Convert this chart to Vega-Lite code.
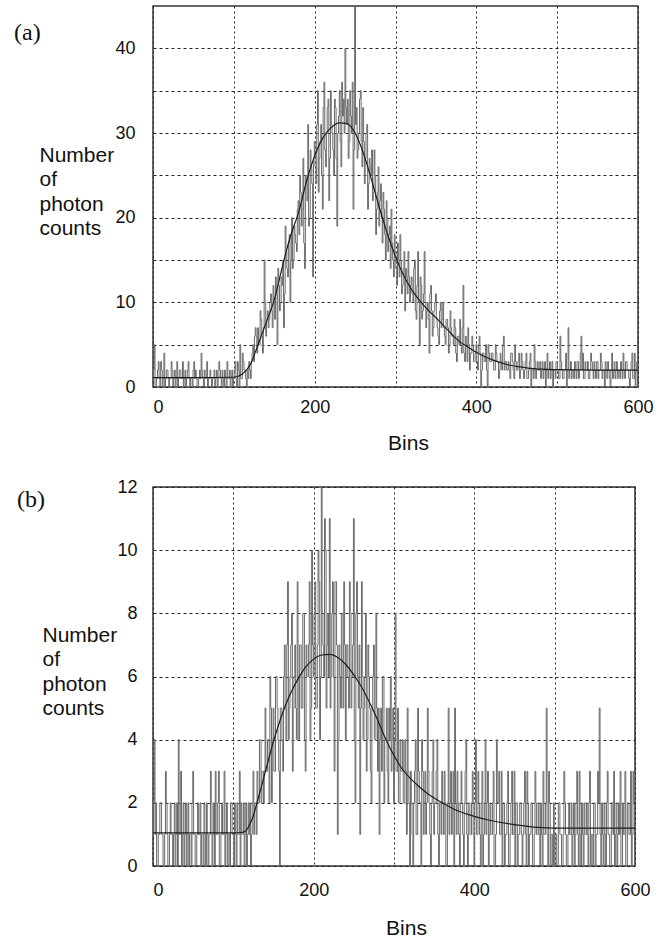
{
"$schema": "https://vega.github.io/schema/vega-lite/v6.json",
"background": "white",
"padding": {"left": 13, "top": 5, "right": 5, "bottom": 0},
"spacing": 23,
"config": {
 "view": {"stroke": "#333333", "strokeWidth": 1.5},
 "font": "Liberation Sans",
 "axis": {"grid": true, "gridColor": "#222222", "gridWidth": 1, "gridOpacity": 1, "ticks": false, "domain": false, "labelFont": "Liberation Sans", "labelFontSize": 18, "labelColor": "#111111", "titleFont": "Liberation Sans", "titleFontSize": 21, "titleFontWeight": "normal", "titleColor": "#111111", "labelOverlap": false},
 "title": {"font": "Liberation Serif", "fontSize": 24, "fontWeight": "normal", "color": "#111111"}
},
"datasets": {
"a": [{"bin":0,"n":1},{"bin":2,"n":5},{"bin":4,"n":0},{"bin":6,"n":2},{"bin":8,"n":1},{"bin":10,"n":3},{"bin":12,"n":0},{"bin":14,"n":4},{"bin":16,"n":1},{"bin":18,"n":2},
{"bin":20,"n":0},{"bin":22,"n":1},{"bin":24,"n":2},{"bin":26,"n":1},{"bin":28,"n":0},{"bin":30,"n":3},{"bin":32,"n":1},{"bin":34,"n":2},{"bin":36,"n":1},{"bin":38,"n":0},
{"bin":40,"n":2},{"bin":42,"n":1},{"bin":44,"n":3},{"bin":46,"n":0},{"bin":48,"n":1},{"bin":50,"n":2},{"bin":52,"n":1},{"bin":54,"n":1},{"bin":56,"n":0},{"bin":58,"n":2},
{"bin":60,"n":4},{"bin":62,"n":1},{"bin":64,"n":2},{"bin":66,"n":1},{"bin":68,"n":0},{"bin":70,"n":1},{"bin":72,"n":1},{"bin":74,"n":1},{"bin":76,"n":2},{"bin":78,"n":1},
{"bin":80,"n":0},{"bin":82,"n":3},{"bin":84,"n":1},{"bin":86,"n":2},{"bin":88,"n":0},{"bin":90,"n":1},{"bin":92,"n":3},{"bin":94,"n":1},{"bin":96,"n":0},{"bin":98,"n":2},
{"bin":100,"n":1},{"bin":102,"n":3},{"bin":104,"n":0},{"bin":106,"n":2},{"bin":108,"n":5},{"bin":110,"n":1},{"bin":112,"n":3},{"bin":114,"n":2},{"bin":116,"n":0},{"bin":118,"n":1},
{"bin":120,"n":2},{"bin":122,"n":3},{"bin":124,"n":5},{"bin":126,"n":6},{"bin":128,"n":6},{"bin":130,"n":7},{"bin":132,"n":5},{"bin":134,"n":8},{"bin":136,"n":4},{"bin":138,"n":15},
{"bin":140,"n":6},{"bin":142,"n":9},{"bin":144,"n":8},{"bin":146,"n":11},{"bin":148,"n":7},{"bin":150,"n":10},{"bin":152,"n":13},{"bin":154,"n":5},{"bin":156,"n":12},{"bin":158,"n":10},
{"bin":160,"n":12},{"bin":162,"n":7},{"bin":164,"n":19},{"bin":166,"n":14},{"bin":168,"n":17},{"bin":170,"n":10},{"bin":172,"n":20},{"bin":174,"n":15},{"bin":176,"n":18},{"bin":178,"n":16},
{"bin":180,"n":22},{"bin":182,"n":25},{"bin":184,"n":19},{"bin":186,"n":27},{"bin":188,"n":14},{"bin":190,"n":24},{"bin":192,"n":31},{"bin":194,"n":20},{"bin":196,"n":26},{"bin":198,"n":13},
{"bin":200,"n":29},{"bin":202,"n":24},{"bin":204,"n":35},{"bin":206,"n":27},{"bin":208,"n":31},{"bin":210,"n":21},{"bin":212,"n":36},{"bin":214,"n":26},{"bin":216,"n":33},{"bin":218,"n":22},
{"bin":220,"n":35},{"bin":222,"n":30},{"bin":224,"n":25},{"bin":226,"n":33},{"bin":228,"n":19},{"bin":230,"n":32},{"bin":232,"n":29},{"bin":234,"n":36},{"bin":236,"n":34},{"bin":238,"n":40},
{"bin":240,"n":31},{"bin":242,"n":27},{"bin":244,"n":35},{"bin":246,"n":30},{"bin":248,"n":21},{"bin":250,"n":45},{"bin":252,"n":33},{"bin":254,"n":28},{"bin":256,"n":34},{"bin":258,"n":29},
{"bin":260,"n":33},{"bin":262,"n":24},{"bin":264,"n":30},{"bin":266,"n":21},{"bin":268,"n":27},{"bin":270,"n":25},{"bin":272,"n":22},{"bin":274,"n":28},{"bin":276,"n":18},{"bin":278,"n":23},
{"bin":280,"n":19},{"bin":282,"n":24},{"bin":284,"n":17},{"bin":286,"n":21},{"bin":288,"n":15},{"bin":290,"n":20},{"bin":292,"n":18},{"bin":294,"n":14},{"bin":296,"n":17},{"bin":298,"n":13},
{"bin":300,"n":16},{"bin":302,"n":12},{"bin":304,"n":15},{"bin":306,"n":18},{"bin":308,"n":11},{"bin":310,"n":14},{"bin":312,"n":9},{"bin":314,"n":13},{"bin":316,"n":16},{"bin":318,"n":10},
{"bin":320,"n":13},{"bin":322,"n":10},{"bin":324,"n":15},{"bin":326,"n":8},{"bin":328,"n":16},{"bin":330,"n":5},{"bin":332,"n":12},{"bin":334,"n":9},{"bin":336,"n":16},{"bin":338,"n":7},
{"bin":340,"n":10},{"bin":342,"n":4},{"bin":344,"n":12},{"bin":346,"n":6},{"bin":348,"n":9},{"bin":350,"n":11},{"bin":352,"n":7},{"bin":354,"n":5},{"bin":356,"n":10},{"bin":358,"n":8},
{"bin":360,"n":7},{"bin":362,"n":5},{"bin":364,"n":8},{"bin":366,"n":4},{"bin":368,"n":9},{"bin":370,"n":6},{"bin":372,"n":5},{"bin":374,"n":7},{"bin":376,"n":3},{"bin":378,"n":6},
{"bin":380,"n":8},{"bin":382,"n":4},{"bin":384,"n":12},{"bin":386,"n":3},{"bin":388,"n":5},{"bin":390,"n":7},{"bin":392,"n":2},{"bin":394,"n":4},{"bin":396,"n":5},{"bin":398,"n":3},
{"bin":400,"n":5},{"bin":402,"n":2},{"bin":404,"n":6},{"bin":406,"n":0},{"bin":408,"n":4},{"bin":410,"n":3},{"bin":412,"n":5},{"bin":414,"n":0},{"bin":416,"n":4},{"bin":418,"n":3},
{"bin":420,"n":4},{"bin":422,"n":2},{"bin":424,"n":5},{"bin":426,"n":3},{"bin":428,"n":1},{"bin":430,"n":4},{"bin":432,"n":2},{"bin":434,"n":6},{"bin":436,"n":3},{"bin":438,"n":2},
{"bin":440,"n":3},{"bin":442,"n":1},{"bin":444,"n":4},{"bin":446,"n":2},{"bin":448,"n":5},{"bin":450,"n":2},{"bin":452,"n":3},{"bin":454,"n":1},{"bin":456,"n":4},{"bin":458,"n":2},
{"bin":460,"n":2},{"bin":462,"n":4},{"bin":464,"n":1},{"bin":466,"n":3},{"bin":468,"n":0},{"bin":470,"n":2},{"bin":472,"n":5},{"bin":474,"n":1},{"bin":476,"n":3},{"bin":478,"n":2},
{"bin":480,"n":1},{"bin":482,"n":3},{"bin":484,"n":2},{"bin":486,"n":0},{"bin":488,"n":4},{"bin":490,"n":2},{"bin":492,"n":1},{"bin":494,"n":3},{"bin":496,"n":2},{"bin":498,"n":1},
{"bin":500,"n":3},{"bin":502,"n":1},{"bin":504,"n":6},{"bin":506,"n":2},{"bin":508,"n":1},{"bin":510,"n":2},{"bin":512,"n":0},{"bin":514,"n":7},{"bin":516,"n":2},{"bin":518,"n":1},
{"bin":520,"n":2},{"bin":522,"n":3},{"bin":524,"n":1},{"bin":526,"n":3},{"bin":528,"n":2},{"bin":530,"n":6},{"bin":532,"n":4},{"bin":534,"n":1},{"bin":536,"n":2},{"bin":538,"n":3},
{"bin":540,"n":1},{"bin":542,"n":4},{"bin":544,"n":2},{"bin":546,"n":3},{"bin":548,"n":1},{"bin":550,"n":3},{"bin":552,"n":2},{"bin":554,"n":4},{"bin":556,"n":1},{"bin":558,"n":2},
{"bin":560,"n":3},{"bin":562,"n":1},{"bin":564,"n":2},{"bin":566,"n":0},{"bin":568,"n":4},{"bin":570,"n":2},{"bin":572,"n":1},{"bin":574,"n":3},{"bin":576,"n":2},{"bin":578,"n":1},
{"bin":580,"n":2},{"bin":582,"n":4},{"bin":584,"n":1},{"bin":586,"n":3},{"bin":588,"n":2},{"bin":590,"n":0},{"bin":592,"n":3},{"bin":594,"n":1},{"bin":596,"n":4},{"bin":598,"n":2},{"bin":600,"n":2},
{"bin":1,"n":2},{"bin":3,"n":0},{"bin":5,"n":1},{"bin":7,"n":3},{"bin":9,"n":0},{"bin":11,"n":2},{"bin":13,"n":1},{"bin":15,"n":0},{"bin":17,"n":2},{"bin":19,"n":1},
{"bin":21,"n":1},{"bin":23,"n":3},{"bin":25,"n":0},{"bin":27,"n":2},{"bin":29,"n":1},{"bin":31,"n":0},{"bin":33,"n":2},{"bin":35,"n":1},{"bin":37,"n":3},{"bin":39,"n":1},
{"bin":41,"n":0},{"bin":43,"n":2},{"bin":45,"n":1},{"bin":47,"n":1},{"bin":49,"n":0},{"bin":51,"n":3},{"bin":53,"n":2},{"bin":55,"n":0},{"bin":57,"n":1},{"bin":59,"n":1},
{"bin":61,"n":2},{"bin":63,"n":0},{"bin":65,"n":1},{"bin":67,"n":3},{"bin":69,"n":1},{"bin":71,"n":2},{"bin":73,"n":0},{"bin":75,"n":1},{"bin":77,"n":0},{"bin":79,"n":2},
{"bin":81,"n":1},{"bin":83,"n":2},{"bin":85,"n":0},{"bin":87,"n":1},{"bin":89,"n":2},{"bin":91,"n":0},{"bin":93,"n":1},{"bin":95,"n":2},{"bin":97,"n":1},{"bin":99,"n":0},
{"bin":101,"n":2},{"bin":103,"n":1},{"bin":105,"n":3},{"bin":107,"n":0},{"bin":109,"n":1},{"bin":111,"n":4},{"bin":113,"n":2},{"bin":115,"n":1},{"bin":117,"n":2},{"bin":119,"n":3},
{"bin":121,"n":1},{"bin":123,"n":4},{"bin":125,"n":3},{"bin":127,"n":7},{"bin":129,"n":4},{"bin":131,"n":5},{"bin":133,"n":9},{"bin":135,"n":6},{"bin":137,"n":7},{"bin":139,"n":10},
{"bin":141,"n":8},{"bin":143,"n":7},{"bin":145,"n":10},{"bin":147,"n":9},{"bin":149,"n":12},{"bin":151,"n":8},{"bin":153,"n":11},{"bin":155,"n":14},{"bin":157,"n":9},{"bin":159,"n":13},
{"bin":161,"n":15},{"bin":163,"n":11},{"bin":165,"n":16},{"bin":167,"n":13},{"bin":169,"n":18},{"bin":171,"n":15},{"bin":173,"n":14},{"bin":175,"n":19},{"bin":177,"n":17},{"bin":179,"n":21},
{"bin":181,"n":18},{"bin":183,"n":23},{"bin":185,"n":21},{"bin":187,"n":17},{"bin":189,"n":25},{"bin":191,"n":22},{"bin":193,"n":19},{"bin":195,"n":28},{"bin":197,"n":24},{"bin":199,"n":27},
{"bin":201,"n":26},{"bin":203,"n":31},{"bin":205,"n":23},{"bin":207,"n":29},{"bin":209,"n":25},{"bin":211,"n":33},{"bin":213,"n":28},{"bin":215,"n":30},{"bin":217,"n":34},{"bin":219,"n":27},
{"bin":221,"n":31},{"bin":223,"n":28},{"bin":225,"n":34},{"bin":227,"n":27},{"bin":229,"n":30},{"bin":231,"n":35},{"bin":233,"n":26},{"bin":235,"n":32},{"bin":237,"n":30},{"bin":239,"n":33},
{"bin":241,"n":34},{"bin":243,"n":29},{"bin":245,"n":32},{"bin":247,"n":36},{"bin":249,"n":28},{"bin":251,"n":31},{"bin":253,"n":27},{"bin":255,"n":30},{"bin":257,"n":35},{"bin":259,"n":26},
{"bin":261,"n":29},{"bin":263,"n":27},{"bin":265,"n":31},{"bin":267,"n":24},{"bin":269,"n":26},{"bin":271,"n":28},{"bin":273,"n":23},{"bin":275,"n":25},{"bin":277,"n":21},{"bin":279,"n":26},
{"bin":281,"n":22},{"bin":283,"n":20},{"bin":285,"n":23},{"bin":287,"n":18},{"bin":289,"n":22},{"bin":291,"n":16},{"bin":293,"n":19},{"bin":295,"n":21},{"bin":297,"n":15},{"bin":299,"n":18},
{"bin":301,"n":14},{"bin":303,"n":17},{"bin":305,"n":13},{"bin":307,"n":15},{"bin":309,"n":12},{"bin":311,"n":16},{"bin":313,"n":14},{"bin":315,"n":11},{"bin":317,"n":13},{"bin":319,"n":12},
{"bin":321,"n":11},{"bin":323,"n":14},{"bin":325,"n":9},{"bin":327,"n":12},{"bin":329,"n":10},{"bin":331,"n":13},{"bin":333,"n":8},{"bin":335,"n":11},{"bin":337,"n":10},{"bin":339,"n":9},
{"bin":341,"n":8},{"bin":343,"n":11},{"bin":345,"n":9},{"bin":347,"n":7},{"bin":349,"n":10},{"bin":351,"n":8},{"bin":353,"n":6},{"bin":355,"n":9},{"bin":357,"n":7},{"bin":359,"n":10},
{"bin":361,"n":6},{"bin":363,"n":8},{"bin":365,"n":7},{"bin":367,"n":5},{"bin":369,"n":7},{"bin":371,"n":6},{"bin":373,"n":8},{"bin":375,"n":4},{"bin":377,"n":6},{"bin":379,"n":5},
{"bin":381,"n":5},{"bin":383,"n":7},{"bin":385,"n":4},{"bin":387,"n":6},{"bin":389,"n":3},{"bin":391,"n":5},{"bin":393,"n":4},{"bin":395,"n":6},{"bin":397,"n":3},{"bin":399,"n":4},
{"bin":401,"n":3},{"bin":403,"n":5},{"bin":405,"n":4},{"bin":407,"n":2},{"bin":409,"n":4},{"bin":411,"n":3},{"bin":413,"n":2},{"bin":415,"n":5},{"bin":417,"n":3},{"bin":419,"n":4},
{"bin":421,"n":3},{"bin":423,"n":2},{"bin":425,"n":4},{"bin":427,"n":3},{"bin":429,"n":2},{"bin":431,"n":3},{"bin":433,"n":5},{"bin":435,"n":2},{"bin":437,"n":3},{"bin":439,"n":2},
{"bin":441,"n":2},{"bin":443,"n":4},{"bin":445,"n":3},{"bin":447,"n":1},{"bin":449,"n":3},{"bin":451,"n":2},{"bin":453,"n":4},{"bin":455,"n":2},{"bin":457,"n":3},{"bin":459,"n":1},
{"bin":461,"n":3},{"bin":463,"n":1},{"bin":465,"n":2},{"bin":467,"n":4},{"bin":469,"n":2},{"bin":471,"n":1},{"bin":473,"n":3},{"bin":475,"n":2},{"bin":477,"n":2},{"bin":479,"n":3},
{"bin":481,"n":2},{"bin":483,"n":1},{"bin":485,"n":3},{"bin":487,"n":2},{"bin":489,"n":1},{"bin":491,"n":3},{"bin":493,"n":2},{"bin":495,"n":0},{"bin":497,"n":2},{"bin":499,"n":3},
{"bin":501,"n":2},{"bin":503,"n":1},{"bin":505,"n":3},{"bin":507,"n":1},{"bin":509,"n":2},{"bin":511,"n":4},{"bin":513,"n":2},{"bin":515,"n":1},{"bin":517,"n":3},{"bin":519,"n":2},
{"bin":521,"n":1},{"bin":523,"n":2},{"bin":525,"n":3},{"bin":527,"n":1},{"bin":529,"n":4},{"bin":531,"n":2},{"bin":533,"n":1},{"bin":535,"n":3},{"bin":537,"n":2},{"bin":539,"n":1},
{"bin":541,"n":2},{"bin":543,"n":3},{"bin":545,"n":1},{"bin":547,"n":2},{"bin":549,"n":3},{"bin":551,"n":1},{"bin":553,"n":2},{"bin":555,"n":3},{"bin":557,"n":2},{"bin":559,"n":0},
{"bin":561,"n":2},{"bin":563,"n":3},{"bin":565,"n":1},{"bin":567,"n":2},{"bin":569,"n":1},{"bin":571,"n":3},{"bin":573,"n":2},{"bin":575,"n":1},{"bin":577,"n":2},{"bin":579,"n":3},
{"bin":581,"n":1},{"bin":583,"n":2},{"bin":585,"n":3},{"bin":587,"n":2},{"bin":589,"n":1},{"bin":591,"n":2},{"bin":593,"n":4},{"bin":595,"n":1},{"bin":597,"n":0},{"bin":599,"n":3}],
"b": [{"bin":0,"n":1},{"bin":2,"n":4},{"bin":4,"n":2},{"bin":6,"n":0},{"bin":8,"n":1},{"bin":10,"n":2},{"bin":12,"n":1},{"bin":14,"n":0},{"bin":16,"n":3},{"bin":18,"n":1},
{"bin":20,"n":0},{"bin":22,"n":2},{"bin":24,"n":1},{"bin":26,"n":1},{"bin":28,"n":0},{"bin":30,"n":2},{"bin":32,"n":4},{"bin":34,"n":1},{"bin":36,"n":0},{"bin":38,"n":2},
{"bin":40,"n":1},{"bin":42,"n":0},{"bin":44,"n":2},{"bin":46,"n":1},{"bin":48,"n":0},{"bin":50,"n":3},{"bin":52,"n":1},{"bin":54,"n":0},{"bin":56,"n":2},{"bin":58,"n":1},
{"bin":60,"n":0},{"bin":62,"n":1},{"bin":64,"n":2},{"bin":66,"n":0},{"bin":68,"n":1},{"bin":70,"n":1},{"bin":72,"n":3},{"bin":74,"n":0},{"bin":76,"n":2},{"bin":78,"n":3},
{"bin":80,"n":1},{"bin":82,"n":3},{"bin":84,"n":0},{"bin":86,"n":2},{"bin":88,"n":1},{"bin":90,"n":0},{"bin":92,"n":2},{"bin":94,"n":1},{"bin":96,"n":0},{"bin":98,"n":2},
{"bin":100,"n":1},{"bin":102,"n":2},{"bin":104,"n":0},{"bin":106,"n":1},{"bin":108,"n":3},{"bin":110,"n":2},{"bin":112,"n":1},{"bin":114,"n":0},{"bin":116,"n":2},{"bin":118,"n":1},
{"bin":120,"n":1},{"bin":122,"n":0},{"bin":124,"n":2},{"bin":126,"n":1},{"bin":128,"n":2},{"bin":130,"n":3},{"bin":132,"n":2},{"bin":134,"n":4},{"bin":136,"n":3},{"bin":138,"n":2},
{"bin":140,"n":5},{"bin":142,"n":3},{"bin":144,"n":4},{"bin":146,"n":6},{"bin":148,"n":2},{"bin":150,"n":5},{"bin":152,"n":3},{"bin":154,"n":6},{"bin":156,"n":4},{"bin":158,"n":0},
{"bin":160,"n":5},{"bin":162,"n":3},{"bin":164,"n":7},{"bin":166,"n":4},{"bin":168,"n":9},{"bin":170,"n":5},{"bin":172,"n":7},{"bin":174,"n":3},{"bin":176,"n":6},{"bin":178,"n":5},
{"bin":180,"n":9},{"bin":182,"n":4},{"bin":184,"n":7},{"bin":186,"n":5},{"bin":188,"n":8},{"bin":190,"n":3},{"bin":192,"n":6},{"bin":194,"n":7},{"bin":196,"n":4},{"bin":198,"n":10},
{"bin":200,"n":6},{"bin":202,"n":9},{"bin":204,"n":5},{"bin":206,"n":10},{"bin":208,"n":4},{"bin":210,"n":12},{"bin":212,"n":7},{"bin":214,"n":11},{"bin":216,"n":5},{"bin":218,"n":8},
{"bin":220,"n":11},{"bin":222,"n":6},{"bin":224,"n":9},{"bin":226,"n":3},{"bin":228,"n":9},{"bin":230,"n":1},{"bin":232,"n":7},{"bin":234,"n":5},{"bin":236,"n":8},{"bin":238,"n":9},
{"bin":240,"n":4},{"bin":242,"n":7},{"bin":244,"n":5},{"bin":246,"n":8},{"bin":248,"n":6},{"bin":250,"n":11},{"bin":252,"n":2},{"bin":254,"n":9},{"bin":256,"n":5},{"bin":258,"n":1},
{"bin":260,"n":9},{"bin":262,"n":4},{"bin":264,"n":6},{"bin":266,"n":3},{"bin":268,"n":7},{"bin":270,"n":5},{"bin":272,"n":2},{"bin":274,"n":6},{"bin":276,"n":4},{"bin":278,"n":8},
{"bin":280,"n":3},{"bin":282,"n":1},{"bin":284,"n":5},{"bin":286,"n":6},{"bin":288,"n":2},{"bin":290,"n":4},{"bin":292,"n":3},{"bin":294,"n":5},{"bin":296,"n":6},{"bin":298,"n":4},
{"bin":300,"n":2},{"bin":302,"n":8},{"bin":304,"n":3},{"bin":306,"n":2},{"bin":308,"n":4},{"bin":310,"n":3},{"bin":312,"n":2},{"bin":314,"n":4},{"bin":316,"n":1},{"bin":318,"n":3},
{"bin":320,"n":0},{"bin":322,"n":2},{"bin":324,"n":0},{"bin":326,"n":3},{"bin":328,"n":1},{"bin":330,"n":5},{"bin":332,"n":2},{"bin":334,"n":0},{"bin":336,"n":3},{"bin":338,"n":2},
{"bin":340,"n":1},{"bin":342,"n":5},{"bin":344,"n":2},{"bin":346,"n":0},{"bin":348,"n":3},{"bin":350,"n":1},{"bin":352,"n":2},{"bin":354,"n":4},{"bin":356,"n":0},{"bin":358,"n":2},
{"bin":360,"n":3},{"bin":362,"n":1},{"bin":364,"n":2},{"bin":366,"n":0},{"bin":368,"n":5},{"bin":370,"n":2},{"bin":372,"n":1},{"bin":374,"n":3},{"bin":376,"n":5},{"bin":378,"n":1},
{"bin":380,"n":2},{"bin":382,"n":0},{"bin":384,"n":3},{"bin":386,"n":1},{"bin":388,"n":2},{"bin":390,"n":4},{"bin":392,"n":0},{"bin":394,"n":2},{"bin":396,"n":1},{"bin":398,"n":3},
{"bin":400,"n":0},{"bin":402,"n":4},{"bin":404,"n":1},{"bin":406,"n":2},{"bin":408,"n":0},{"bin":410,"n":3},{"bin":412,"n":1},{"bin":414,"n":4},{"bin":416,"n":2},{"bin":418,"n":0},
{"bin":420,"n":2},{"bin":422,"n":1},{"bin":424,"n":3},{"bin":426,"n":0},{"bin":428,"n":4},{"bin":430,"n":2},{"bin":432,"n":1},{"bin":434,"n":3},{"bin":436,"n":2},{"bin":438,"n":0},
{"bin":440,"n":1},{"bin":442,"n":3},{"bin":444,"n":0},{"bin":446,"n":2},{"bin":448,"n":1},{"bin":450,"n":3},{"bin":452,"n":2},{"bin":454,"n":0},{"bin":456,"n":1},{"bin":458,"n":2},
{"bin":460,"n":0},{"bin":462,"n":2},{"bin":464,"n":1},{"bin":466,"n":3},{"bin":468,"n":0},{"bin":470,"n":1},{"bin":472,"n":2},{"bin":474,"n":0},{"bin":476,"n":3},{"bin":478,"n":1},
{"bin":480,"n":2},{"bin":482,"n":0},{"bin":484,"n":1},{"bin":486,"n":3},{"bin":488,"n":1},{"bin":490,"n":5},{"bin":492,"n":0},{"bin":494,"n":2},{"bin":496,"n":1},{"bin":498,"n":0},
{"bin":500,"n":0},{"bin":502,"n":1},{"bin":504,"n":0},{"bin":506,"n":2},{"bin":508,"n":1},{"bin":510,"n":0},{"bin":512,"n":3},{"bin":514,"n":1},{"bin":516,"n":0},{"bin":518,"n":2},
{"bin":520,"n":1},{"bin":522,"n":0},{"bin":524,"n":2},{"bin":526,"n":1},{"bin":528,"n":3},{"bin":530,"n":0},{"bin":532,"n":1},{"bin":534,"n":2},{"bin":536,"n":0},{"bin":538,"n":1},
{"bin":540,"n":2},{"bin":542,"n":0},{"bin":544,"n":3},{"bin":546,"n":1},{"bin":548,"n":0},{"bin":550,"n":2},{"bin":552,"n":1},{"bin":554,"n":3},{"bin":556,"n":5},{"bin":558,"n":0},
{"bin":560,"n":1},{"bin":562,"n":2},{"bin":564,"n":0},{"bin":566,"n":3},{"bin":568,"n":1},{"bin":570,"n":0},{"bin":572,"n":2},{"bin":574,"n":3},{"bin":576,"n":1},{"bin":578,"n":0},
{"bin":580,"n":2},{"bin":582,"n":3},{"bin":584,"n":0},{"bin":586,"n":1},{"bin":588,"n":3},{"bin":590,"n":0},{"bin":592,"n":2},{"bin":594,"n":1},{"bin":596,"n":0},{"bin":598,"n":3},{"bin":600,"n":3},
{"bin":1,"n":2},{"bin":3,"n":1},{"bin":5,"n":0},{"bin":7,"n":1},{"bin":9,"n":2},{"bin":11,"n":1},{"bin":13,"n":0},{"bin":15,"n":1},{"bin":17,"n":2},{"bin":19,"n":0},
{"bin":21,"n":1},{"bin":23,"n":1},{"bin":25,"n":0},{"bin":27,"n":2},{"bin":29,"n":1},{"bin":31,"n":0},{"bin":33,"n":1},{"bin":35,"n":3},{"bin":37,"n":1},{"bin":39,"n":0},
{"bin":41,"n":2},{"bin":43,"n":1},{"bin":45,"n":0},{"bin":47,"n":1},{"bin":49,"n":2},{"bin":51,"n":1},{"bin":53,"n":0},{"bin":55,"n":1},{"bin":57,"n":1},{"bin":59,"n":2},
{"bin":61,"n":1},{"bin":63,"n":0},{"bin":65,"n":1},{"bin":67,"n":2},{"bin":69,"n":0},{"bin":71,"n":1},{"bin":73,"n":2},{"bin":75,"n":1},{"bin":77,"n":0},{"bin":79,"n":1},
{"bin":81,"n":2},{"bin":83,"n":0},{"bin":85,"n":1},{"bin":87,"n":1},{"bin":89,"n":3},{"bin":91,"n":1},{"bin":93,"n":0},{"bin":95,"n":1},{"bin":97,"n":2},{"bin":99,"n":1},
{"bin":101,"n":0},{"bin":103,"n":1},{"bin":105,"n":2},{"bin":107,"n":1},{"bin":109,"n":0},{"bin":111,"n":1},{"bin":113,"n":2},{"bin":115,"n":1},{"bin":117,"n":0},{"bin":119,"n":2},
{"bin":121,"n":2},{"bin":123,"n":1},{"bin":125,"n":3},{"bin":127,"n":2},{"bin":129,"n":1},{"bin":131,"n":2},{"bin":133,"n":4},{"bin":135,"n":2},{"bin":137,"n":3},{"bin":139,"n":3},
{"bin":141,"n":3},{"bin":143,"n":4},{"bin":145,"n":2},{"bin":147,"n":5},{"bin":149,"n":4},{"bin":151,"n":3},{"bin":153,"n":6},{"bin":155,"n":5},{"bin":157,"n":3},{"bin":159,"n":5},
{"bin":161,"n":4},{"bin":163,"n":6},{"bin":165,"n":5},{"bin":167,"n":7},{"bin":169,"n":4},{"bin":171,"n":6},{"bin":173,"n":8},{"bin":175,"n":5},{"bin":177,"n":7},{"bin":179,"n":4},
{"bin":181,"n":6},{"bin":183,"n":7},{"bin":185,"n":5},{"bin":187,"n":8},{"bin":189,"n":4},{"bin":191,"n":7},{"bin":193,"n":6},{"bin":195,"n":9},{"bin":197,"n":5},{"bin":199,"n":7},
{"bin":201,"n":8},{"bin":203,"n":5},{"bin":205,"n":7},{"bin":207,"n":9},{"bin":209,"n":6},{"bin":211,"n":8},{"bin":213,"n":6},{"bin":215,"n":10},{"bin":217,"n":7},{"bin":219,"n":6},
{"bin":221,"n":5},{"bin":223,"n":8},{"bin":225,"n":6},{"bin":227,"n":9},{"bin":229,"n":7},{"bin":231,"n":4},{"bin":233,"n":6},{"bin":235,"n":8},{"bin":237,"n":5},{"bin":239,"n":7},
{"bin":241,"n":7},{"bin":243,"n":6},{"bin":245,"n":9},{"bin":247,"n":5},{"bin":249,"n":7},{"bin":251,"n":4},{"bin":253,"n":8},{"bin":255,"n":6},{"bin":257,"n":7},{"bin":259,"n":5},
{"bin":261,"n":6},{"bin":263,"n":5},{"bin":265,"n":8},{"bin":267,"n":4},{"bin":269,"n":6},{"bin":271,"n":3},{"bin":273,"n":5},{"bin":275,"n":7},{"bin":277,"n":4},{"bin":279,"n":5},
{"bin":281,"n":5},{"bin":283,"n":4},{"bin":285,"n":3},{"bin":287,"n":6},{"bin":289,"n":4},{"bin":291,"n":5},{"bin":293,"n":2},{"bin":295,"n":4},{"bin":297,"n":3},{"bin":299,"n":5},
{"bin":301,"n":4},{"bin":303,"n":3},{"bin":305,"n":5},{"bin":307,"n":2},{"bin":309,"n":3},{"bin":311,"n":4},{"bin":313,"n":2},{"bin":315,"n":3},{"bin":317,"n":5},{"bin":319,"n":2},
{"bin":321,"n":3},{"bin":323,"n":1},{"bin":325,"n":2},{"bin":327,"n":4},{"bin":329,"n":1},{"bin":331,"n":3},{"bin":333,"n":2},{"bin":335,"n":4},{"bin":337,"n":1},{"bin":339,"n":3},
{"bin":341,"n":2},{"bin":343,"n":3},{"bin":345,"n":1},{"bin":347,"n":2},{"bin":349,"n":4},{"bin":351,"n":2},{"bin":353,"n":3},{"bin":355,"n":1},{"bin":357,"n":2},{"bin":359,"n":1},
{"bin":361,"n":2},{"bin":363,"n":3},{"bin":365,"n":0},{"bin":367,"n":2},{"bin":369,"n":1},{"bin":371,"n":3},{"bin":373,"n":2},{"bin":375,"n":0},{"bin":377,"n":2},{"bin":379,"n":3},
{"bin":381,"n":1},{"bin":383,"n":2},{"bin":385,"n":2},{"bin":387,"n":0},{"bin":389,"n":3},{"bin":391,"n":1},{"bin":393,"n":2},{"bin":395,"n":1},{"bin":397,"n":2},{"bin":399,"n":1},
{"bin":401,"n":2},{"bin":403,"n":1},{"bin":405,"n":3},{"bin":407,"n":1},{"bin":409,"n":2},{"bin":411,"n":0},{"bin":413,"n":2},{"bin":415,"n":1},{"bin":417,"n":3},{"bin":419,"n":1},
{"bin":421,"n":1},{"bin":423,"n":2},{"bin":425,"n":0},{"bin":427,"n":1},{"bin":429,"n":2},{"bin":431,"n":3},{"bin":433,"n":1},{"bin":435,"n":0},{"bin":437,"n":2},{"bin":439,"n":1},
{"bin":441,"n":2},{"bin":443,"n":0},{"bin":445,"n":1},{"bin":447,"n":3},{"bin":449,"n":1},{"bin":451,"n":0},{"bin":453,"n":2},{"bin":455,"n":1},{"bin":457,"n":2},{"bin":459,"n":1},
{"bin":461,"n":1},{"bin":463,"n":3},{"bin":465,"n":0},{"bin":467,"n":2},{"bin":469,"n":1},{"bin":471,"n":2},{"bin":473,"n":0},{"bin":475,"n":1},{"bin":477,"n":2},{"bin":479,"n":1},
{"bin":481,"n":1},{"bin":483,"n":2},{"bin":485,"n":0},{"bin":487,"n":1},{"bin":489,"n":2},{"bin":491,"n":1},{"bin":493,"n":3},{"bin":495,"n":0},{"bin":497,"n":1},{"bin":499,"n":2},
{"bin":501,"n":1},{"bin":503,"n":0},{"bin":505,"n":2},{"bin":507,"n":1},{"bin":509,"n":0},{"bin":511,"n":1},{"bin":513,"n":2},{"bin":515,"n":0},{"bin":517,"n":1},{"bin":519,"n":1},
{"bin":521,"n":2},{"bin":523,"n":1},{"bin":525,"n":0},{"bin":527,"n":2},{"bin":529,"n":1},{"bin":531,"n":3},{"bin":533,"n":0},{"bin":535,"n":1},{"bin":537,"n":2},{"bin":539,"n":1},
{"bin":541,"n":1},{"bin":543,"n":2},{"bin":545,"n":0},{"bin":547,"n":1},{"bin":549,"n":2},{"bin":551,"n":0},{"bin":553,"n":1},{"bin":555,"n":2},{"bin":557,"n":1},{"bin":559,"n":2},
{"bin":561,"n":0},{"bin":563,"n":1},{"bin":565,"n":2},{"bin":567,"n":1},{"bin":569,"n":0},{"bin":571,"n":2},{"bin":573,"n":1},{"bin":575,"n":0},{"bin":577,"n":2},{"bin":579,"n":1},
{"bin":581,"n":1},{"bin":583,"n":0},{"bin":585,"n":2},{"bin":587,"n":1},{"bin":589,"n":0},{"bin":591,"n":2},{"bin":593,"n":1},{"bin":595,"n":3},{"bin":597,"n":1},{"bin":599,"n":2}],
"fa": [{"bin":0,"n":1.1},{"bin":50,"n":1.1},{"bin":100,"n":1.15},{"bin":110,"n":1.5},{"bin":120,"n":2.6},{"bin":130,"n":5.0},{"bin":140,"n":7.6},{"bin":150,"n":10.3},{"bin":160,"n":14.2},{"bin":170,"n":17.8},{"bin":180,"n":20.6},{"bin":190,"n":24.3},{"bin":200,"n":27.3},{"bin":210,"n":29.4},{"bin":220,"n":30.6},{"bin":230,"n":31.2},{"bin":240,"n":31.1},{"bin":250,"n":30.0},{"bin":260,"n":27.7},{"bin":270,"n":24.6},{"bin":280,"n":21.2},{"bin":290,"n":18.1},{"bin":300,"n":15.4},{"bin":310,"n":13.2},{"bin":320,"n":11.5},{"bin":330,"n":10.2},{"bin":340,"n":9.1},{"bin":350,"n":8.2},{"bin":360,"n":7.2},{"bin":370,"n":6.2},{"bin":380,"n":5.3},{"bin":390,"n":4.7},{"bin":400,"n":4.1},{"bin":410,"n":3.6},{"bin":420,"n":3.2},{"bin":440,"n":2.6},{"bin":460,"n":2.3},{"bin":480,"n":2.1},{"bin":500,"n":2.05},{"bin":550,"n":2.0},{"bin":600,"n":2.0}],
"fb": [{"bin":0,"n":1.05},{"bin":50,"n":1.05},{"bin":100,"n":1.05},{"bin":110,"n":1.06},{"bin":115,"n":1.1},{"bin":120,"n":1.3},{"bin":125,"n":1.6},{"bin":130,"n":2.05},{"bin":140,"n":3.0},{"bin":150,"n":3.95},{"bin":160,"n":4.75},{"bin":170,"n":5.4},{"bin":180,"n":5.9},{"bin":190,"n":6.3},{"bin":200,"n":6.55},{"bin":210,"n":6.68},{"bin":220,"n":6.7},{"bin":230,"n":6.6},{"bin":240,"n":6.38},{"bin":250,"n":6.05},{"bin":260,"n":5.65},{"bin":270,"n":5.15},{"bin":280,"n":4.6},{"bin":290,"n":4.0},{"bin":300,"n":3.5},{"bin":310,"n":3.08},{"bin":320,"n":2.78},{"bin":330,"n":2.54},{"bin":340,"n":2.33},{"bin":350,"n":2.15},{"bin":360,"n":2.0},{"bin":370,"n":1.86},{"bin":380,"n":1.74},{"bin":390,"n":1.65},{"bin":400,"n":1.57},{"bin":420,"n":1.44},{"bin":440,"n":1.35},{"bin":460,"n":1.28},{"bin":480,"n":1.22},{"bin":500,"n":1.2},{"bin":550,"n":1.2},{"bin":600,"n":1.2}]
},
"vconcat": [
 {
  "width": 485, "height": 381,
  "title": {"text": "(a)", "orient": "top", "anchor": "start", "frame": "group", "baseline": "alphabetic", "dx": -139, "dy": 58, "offset": 0},
  "encoding": {
   "x": {"field": "bin", "type": "quantitative", "scale": {"domain": [0, 600], "nice": false, "zero": false},
     "axis": {"values": [0,100,200,300,400,500,600], "labelExpr": "datum.value % 200 === 0 ? datum.label : ''", "labelAlign": {"condition": {"test": "datum.value === 0", "value": "left"}, "value": "center"}, "labelPadding": 11, "gridDash": [2,3], "title": "Bins", "titleX": 255, "titleY": 62, "titleBaseline": "alphabetic"}},
   "y": {"field": "n", "type": "quantitative", "scale": {"domain": [0, 45], "nice": false},
     "axis": {"values": [0,5,10,15,20,25,30,35,40], "labelExpr": "datum.value % 10 === 0 ? datum.label : ''", "labelPadding": 18, "gridDash": [3,3], "title": ["Number","of","photon","counts"], "titleAngle": 0, "titleAlign": "left", "titleBaseline": "alphabetic", "titleX": -114, "titleY": 155, "titleLineHeight": 24.5}}
  },
  "layer": [
   {"data": {"name": "a"}, "mark": {"type": "line", "interpolate": "step", "color": "#6a6a6a", "strokeWidth": 1, "clip": true}},
   {"data": {"name": "fa"}, "mark": {"type": "line", "interpolate": "monotone", "color": "#1e1e1e", "strokeWidth": 1.2}}
  ]
 },
 {
  "width": 482, "height": 379,
  "title": {"text": "(b)", "orient": "top", "anchor": "start", "frame": "group", "baseline": "alphabetic", "dx": -136, "dy": 53, "offset": 0},
  "encoding": {
   "x": {"field": "bin", "type": "quantitative", "scale": {"domain": [0, 600], "nice": false, "zero": false},
     "axis": {"values": [0,100,200,300,400,500,600], "labelExpr": "datum.value % 200 === 0 ? datum.label : ''", "labelAlign": {"condition": {"test": "datum.value === 0", "value": "left"}, "value": "center"}, "labelPadding": 15, "gridDash": [2,3], "title": "Bins", "titleX": 253, "titleY": 68, "titleBaseline": "alphabetic"}},
   "y": {"field": "n", "type": "quantitative", "scale": {"domain": [0, 12], "nice": false},
     "axis": {"values": [0,2,4,6,8,10,12], "labelPadding": 16, "gridDash": [3,3], "title": ["Number","of","photon","counts"], "titleAngle": 0, "titleAlign": "left", "titleBaseline": "alphabetic", "titleX": -111, "titleY": 154, "titleLineHeight": 24.5}}
  },
  "layer": [
   {"data": {"name": "b"}, "mark": {"type": "line", "interpolate": "step", "color": "#6a6a6a", "strokeWidth": 1, "clip": true}},
   {"data": {"name": "fb"}, "mark": {"type": "line", "interpolate": "monotone", "color": "#1e1e1e", "strokeWidth": 1.2}}
  ]
 }
]
}
